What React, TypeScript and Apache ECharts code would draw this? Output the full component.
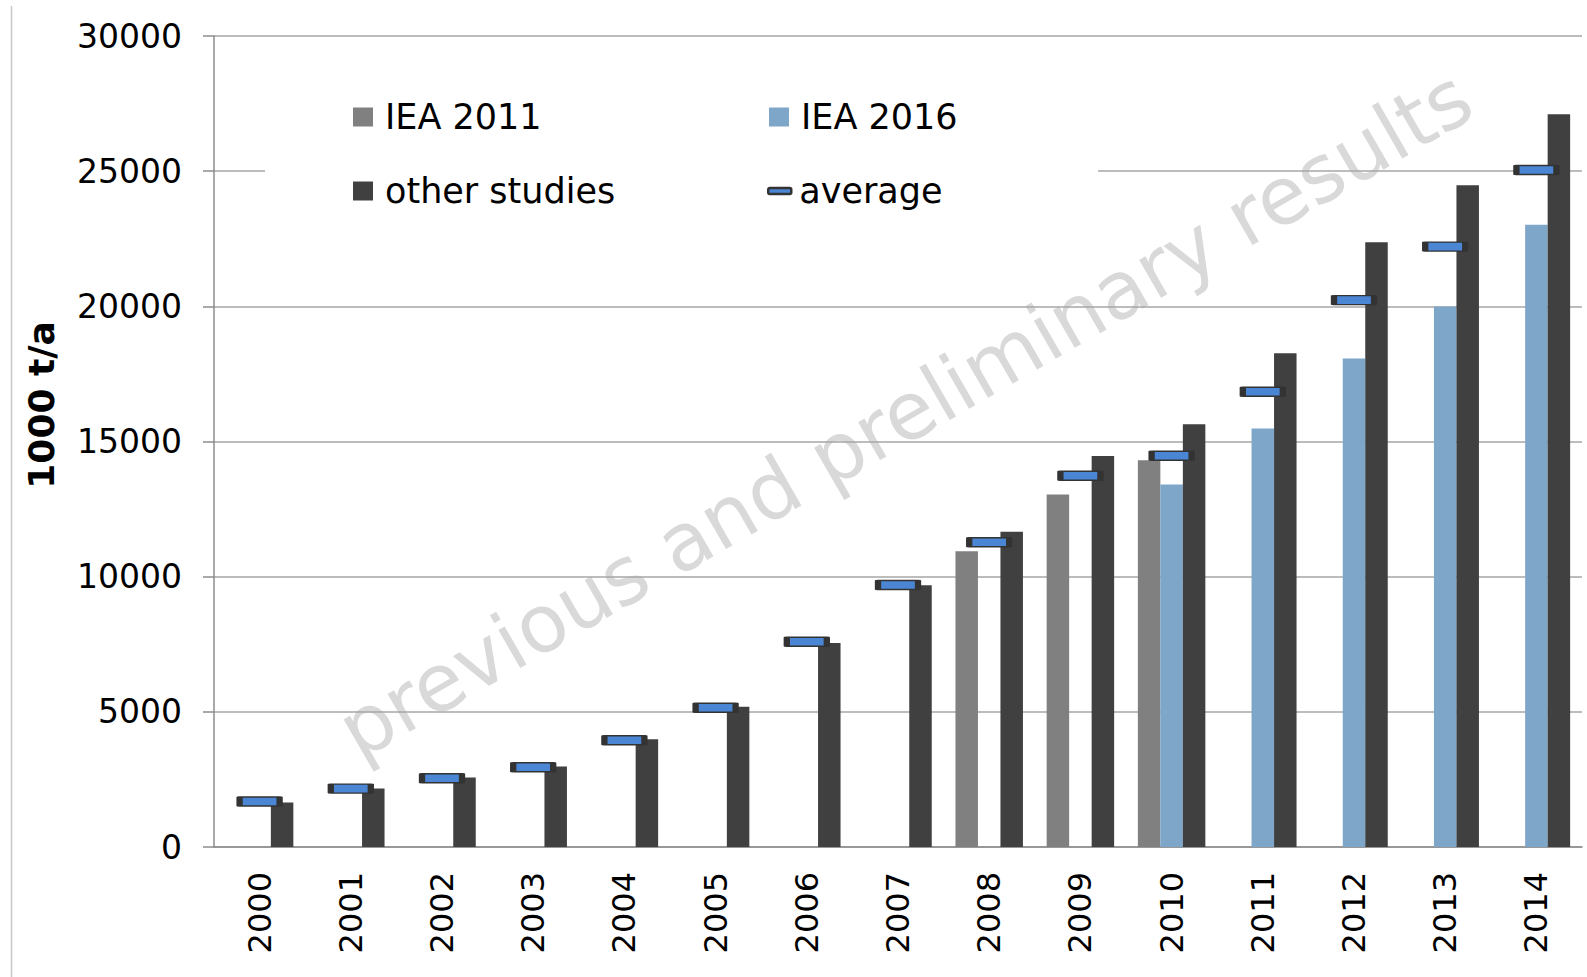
import React, { useEffect, useRef } from 'react';
import * as echarts from 'echarts';

const years = ['2000', '2001', '2002', '2003', '2004', '2005', '2006', '2007', '2008', '2009', '2010', '2011', '2012', '2013', '2014'];
const iea2011: (number | null)[] = [null, null, null, null, null, null, null, null, 10940, 13040, 14310, null, null, null, null];
const iea2016: (number | null)[] = [null, null, null, null, null, null, null, null, null, null, 13410, 15480, 18070, 19990, 23020];
const otherStudies = [1650, 2160, 2570, 2980, 3990, 5190, 7550, 9680, 11660, 14460, 15640, 18260, 22370, 24480, 27110];
const average = [1680, 2160, 2540, 2950, 3950, 5150, 7590, 9690, 11270, 13730, 14470, 16840, 20230, 22210, 25040];

const yMin = 0;
const yMax = 30000;
const yStep = 5000;

const axisTitle = '1000 t/a';
const watermark = 'previous and preliminary results';

const FONT = '"DejaVu Sans", Verdana, sans-serif';

export default function App() {
  const ref = useRef<HTMLDivElement>(null);
  useEffect(() => {
    if (!ref.current) return;
    const chart = echarts.init(ref.current, null, { renderer: 'svg' });
    const legendText = { fontFamily: FONT, fontSize: 35, color: '#000', lineHeight: 40, padding: [0, 0, 0, 7] };
    chart.setOption({
      animation: false,
      backgroundColor: '#fff',
      grid: { left: 214, right: 5, top: 36, bottom: 130, containLabel: false, outerBoundsMode: 'none' },
      legend: [
        { data: ['IEA 2011'], icon: 'rect', left: 353, top: 97, padding: 0, itemWidth: 20, itemHeight: 19, textStyle: legendText },
        { data: ['IEA 2016'], icon: 'rect', left: 769, top: 97, padding: 0, itemWidth: 20, itemHeight: 19, textStyle: legendText },
        { data: ['other studies'], icon: 'rect', left: 353, top: 171, padding: 0, itemWidth: 20, itemHeight: 19, textStyle: legendText },
        {
          data: ['average'], icon: 'roundRect', left: 767, top: 171, padding: 0, itemWidth: 23, itemHeight: 6,
          itemStyle: { borderColor: '#333', borderWidth: 2.5 },
          textStyle: { ...legendText, padding: [0, 0, 0, 3] },
        },
      ],
      xAxis: {
        type: 'category',
        data: years,
        axisLine: { show: true, lineStyle: { color: '#8c8c8c', width: 1.5 } },
        axisTick: { show: false },
        axisLabel: { rotate: 90, margin: 25, fontFamily: FONT, fontSize: 32, color: '#000' },
      },
      yAxis: {
        type: 'value',
        min: yMin,
        max: yMax,
        interval: yStep,
        axisLine: { show: true, lineStyle: { color: '#8c8c8c', width: 1.5 } },
        axisTick: { show: true, length: 11, lineStyle: { color: '#8c8c8c', width: 1.5 } },
        splitLine: { show: true, lineStyle: { color: '#a6a6a6', width: 1.5 } },
        axisLabel: { margin: 32, fontFamily: FONT, fontSize: 33, color: '#000', formatter: (v: number) => String(v) },
      },
      graphic: [
        {
          type: 'text', x: 905, y: 414, rotation: Math.PI / 6, z: -10, silent: true,
          style: {
            text: watermark, fontFamily: FONT, fontSize: 80, fill: '#d9d9d9',
            align: 'center', verticalAlign: 'middle', textAlign: 'center', textVerticalAlign: 'middle',
          },
        },
        {
          type: 'rect', z: 1, silent: true,
          shape: { x: 265, y: 85, width: 833, height: 138 },
          style: { fill: '#ffffff' },
        },
        {
          type: 'text', x: 41, y: 405, rotation: Math.PI / 2, z: 5,
          style: {
            text: axisTitle, fontFamily: FONT, fontSize: 36, fontWeight: 'bold', fill: '#000',
            align: 'center', verticalAlign: 'middle', textAlign: 'center', textVerticalAlign: 'middle',
          },
        },
        {
          type: 'line', z: 5, silent: true,
          shape: { x1: 11.5, y1: 6, x2: 11.5, y2: 977 },
          style: { stroke: '#c8c8c8', lineWidth: 1.5 },
        },
      ],
      series: [
        { name: 'IEA 2011', type: 'bar', data: iea2011, barGap: '0%', barCategoryGap: '26%', itemStyle: { color: '#808080' } },
        { name: 'IEA 2016', type: 'bar', data: iea2016, barGap: '0%', barCategoryGap: '26%', itemStyle: { color: '#7ea6c9' } },
        { name: 'other studies', type: 'bar', data: otherStudies, barGap: '0%', barCategoryGap: '26%', itemStyle: { color: '#404040' } },
        {
          name: 'average', type: 'scatter', data: average, z: 5,
          symbol: 'rect', symbolSize: [40, 9],
          itemStyle: { color: '#4a86d4', borderColor: '#333333', borderWidth: 3, borderJoin: 'round', opacity: 1 },
        },
      ],
    });
    return () => chart.dispose();
  }, []);
  return <div ref={ref} style={{ position: 'fixed', left: 0, top: 0, width: 1587, height: 977 }} />;
}
